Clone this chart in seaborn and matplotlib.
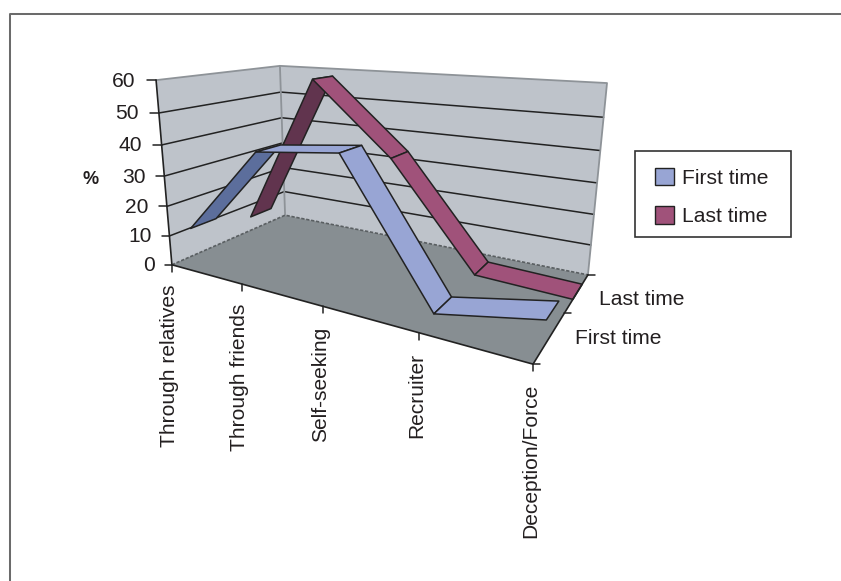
import numpy as np
import matplotlib
matplotlib.use('Agg')
import matplotlib.pyplot as plt
import seaborn as sns
from matplotlib.lines import Line2D
from matplotlib.patches import Patch, Rectangle
from mpl_toolkits.mplot3d.art3d import Poly3DCollection

# chart values
categories = ['Through relatives', 'Through friends', 'Self-seeking', 'Recruiter', 'Deception/Force']
series_names = ['First time', 'Last time']
first_time = [10, 39.5, 42.5, 1.5, 7.5]
last_time = [5.5, 58.5, 35, 1.5, 0.5]
z_ticks = [0, 10, 20, 30, 40, 50, 60]

sns.set_theme(style='white')
plt.rcParams['font.family'] = ['Liberation Sans', 'DejaVu Sans']
palette = sns.color_palette(['#98A5D4', '#A0527A'])
palette_dark = sns.color_palette(['#5C6E9C', '#61344E'])

W, H = 841, 581
fig = plt.figure(figsize=(W / 100, H / 100), dpi=100, facecolor='white')
ax = fig.add_axes([0, 0, 1, 1], projection='3d')
ax.computed_zorder = False
ax.set_axis_off()
ax.apply_aspect()

x_max = len(categories) - 1
y_max = len(series_names)
z_max = z_ticks[-1]

# box corners in the data and where they sit in the picture (camera fit)
corners = [(0, 0, 0), (0, y_max, 0), (x_max, y_max, 0), (x_max, 0, 0),
           (0, 0, z_max), (0, y_max, z_max), (x_max, y_max, z_max)]
corner_px = [(172, 265), (285, 215), (588, 275), (533, 364),
             (156, 80), (280, 66), (607, 83)]
to_view = ax.transData.inverted()
A, b = [], []
for (x, y, z), (px, py) in zip(corners, corner_px):
    u, v = to_view.transform((px, H - py))
    A.append([x, y, z, 1, 0, 0, 0, 0, -u * x, -u * y, -u * z])
    A.append([0, 0, 0, 0, x, y, z, 1, -v * x, -v * y, -v * z])
    b += [u, v]
p = np.linalg.lstsq(np.array(A), np.array(b), rcond=None)[0]
# depth row kept negative, lines get clipped otherwise
M = np.array([p[:4], p[4:8], [0, 1, 0, -y_max - 1], [p[8], p[9], p[10], 1]])
ax.get_proj = lambda: M


def to_fig(x, y, z):
    w = M @ np.array([x, y, z, 1.0])
    return fig.transFigure.inverted().transform(ax.transData.transform((w[0] / w[3], w[1] / w[3])))


def add_poly(verts, face, edge='none', lw=0.0, zorder=1):
    poly = Poly3DCollection([verts], facecolors=face, edgecolors=edge, linewidths=lw, zorder=zorder)
    ax.add_collection3d(poly, autolim=False)


# walls and floor
add_poly([(0, 0, 0), (0, y_max, 0), (0, y_max, z_max), (0, 0, z_max)], '#BEC3CA', zorder=0.1)
add_poly([(0, y_max, 0), (x_max, y_max, 0), (x_max, y_max, z_max), (0, y_max, z_max)], '#BEC3CA', zorder=0.1)
add_poly([(0, 0, 0), (x_max, 0, 0), (x_max, y_max, 0), (0, y_max, 0)], '#878E92', zorder=0.2)

# grid lines on the walls
for z in z_ticks[1:-1]:
    ax.plot([0, 0, x_max], [0, y_max, y_max], [z, z, z], color='#222222', lw=1.1, zorder=3)

# wall outlines
ax.plot([0, 0, x_max, x_max], [0, y_max, y_max, y_max], [z_max, z_max, z_max, 0], color='#8E9398', lw=1.3, zorder=3)
ax.plot([0, 0], [y_max, y_max], [0, z_max], color='#8E9398', lw=1.3, zorder=3)
ax.plot([0, 0, x_max], [0, y_max, y_max], [0, 0, 0], color='#5A5F62', lw=1.2, ls=(0, (2, 1)), zorder=3)

# ribbons, back series first
for s in [1, 0]:
    values = [first_time, last_time][s]
    for i in range(x_max):
        rising = values[i + 1] > values[i] + 10
        face = palette_dark[s] if rising else palette[s]
        add_poly([(i, s + 0.3, values[i]), (i + 1, s + 0.3, values[i + 1]),
                  (i + 1, s + 0.7, values[i + 1]), (i, s + 0.7, values[i])],
                 face, edge='#222222', lw=1.1, zorder=5 + 2 * (1 - s) + i * 0.1)

# axis lines drawn over the floor
ax.plot([0, 0], [0, 0], [0, z_max], color='#222222', lw=1.2, zorder=10)
ax.plot([0, x_max, x_max], [0, 0, y_max], [0, 0, 0], color='#222222', lw=1.2, zorder=10)


def tick(x, y, z, dx, dy):
    fx, fy = to_fig(x, y, z)
    fig.add_artist(Line2D([fx, fx + dx / W], [fy, fy + dy / H], color='#222222', lw=1.1))
    return fx, fy


font_size = 15.1
text_color = '#231F20'

for z in z_ticks:
    fx, fy = tick(0, 0, z, -7 - 2 * z / z_max, 0)
    fig.text(fx - (17 + 4 * z / z_max) / W, fy - 1 / H, str(z), ha='right', va='center',
             fontsize=font_size, color=text_color)

for i, name in enumerate(categories):
    fx, fy = tick(i, 0, 0, 0, -7)
    fig.text(fx - 2 / W, fy - 20 / H, name, rotation=90, ha='center', va='top', fontsize=font_size, color=text_color)

for s in range(y_max + 1):
    tick(x_max, s, 0, 7, 0)

series_label_px = [(575, 338), (599, 299)]
for name, (px, py) in zip(series_names, series_label_px):
    fig.text(px / W, 1 - py / H, name, ha='left', va='center', fontsize=font_size, color=text_color)

fig.text(91 / W, 1 - 179 / H, '%', ha='center', va='center', fontsize=13, fontweight='bold', color=text_color)

# legend
fig.add_artist(Rectangle((635 / W, 1 - 237 / H), 156 / W, 86 / H, transform=fig.transFigure,
                         facecolor='white', edgecolor='#333333', lw=1.2))
handles = [Patch(facecolor=palette[i], edgecolor='#222222', lw=1.0) for i in range(2)]
fig.legend(handles, series_names, loc='center left', bbox_to_anchor=(655 / W, 1 - 197 / H), frameon=False,
           fontsize=font_size, handlelength=0.9, handleheight=0.9, handletextpad=0.4,
           labelspacing=0.9, borderpad=0, borderaxespad=0, labelcolor=text_color)

# outer frame of the picture
fig.add_artist(Line2D([10 / W, 10 / W, 1], [0, 1 - 14 / H, 1 - 14 / H], color='#6B6B6B', lw=1.45))

fig.savefig('out.png', dpi=100)
